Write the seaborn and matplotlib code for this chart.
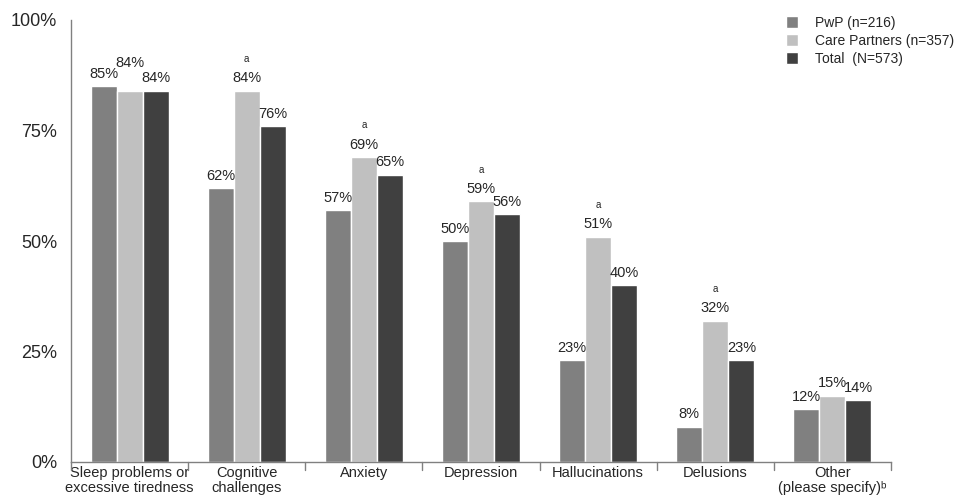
import matplotlib
matplotlib.use("Agg")
import matplotlib.pyplot as plt
import seaborn as sns
import pandas as pd

categories = ["Sleep problems or\nexcessive tiredness", "Cognitive\nchallenges", "Anxiety",
              "Depression", "Hallucinations", "Delusions", "Other\n(please specify)ᵇ"]
series = ["PwP (n=216)", "Care Partners (n=357)", "Total  (N=573)"]
pwp = [85, 62, 57, 50, 23, 8, 12]
care = [84, 84, 69, 59, 51, 32, 15]
total = [84, 76, 65, 56, 40, 23, 14]
sig_a = [False, True, True, True, True, True, False]
yticks = [0, 25, 50, 75, 100]
colors = ["#808080", "#c0c0c0", "#404040"]

sns.set_style("white")
plt.rcParams["font.family"] = ["Liberation Sans", "DejaVu Sans"]

rows = []
for i, c in enumerate(categories):
    for s, vals in zip(series, [pwp, care, total]):
        rows.append({"cat": c, "series": s, "val": vals[i]})
df = pd.DataFrame(rows)

fig = plt.figure(figsize=(9.57, 5.04), dpi=100)
ax = fig.add_axes([71/957, 1 - 462/504, (891-71)/957, (462-20)/504])
sns.barplot(data=df, x="cat", y="val", hue="series", palette=colors, width=0.667,
            ax=ax, saturation=1, dodge=True)
ax.set_xlim(-0.5, len(categories) - 0.5)
ax.set_ylim(0, 100)
ax.set_xlabel("")
ax.set_ylabel("")
ax.set_yticks(yticks)
ax.set_yticklabels([f"{t}%" for t in yticks], fontsize=13)
ax.set_xticks(range(len(categories)))
ax.set_xticklabels(categories, fontsize=10.5, linespacing=1.05)
ax.tick_params(axis="x", length=0, pad=3)
for b in [i - 0.5 for i in range(len(categories) + 1)]:
    ax.plot([b, b], [0, -1.8], color="#808080", lw=1, clip_on=False)
ax.tick_params(axis="y", length=6, color="#808080", width=1, pad=4)
for s in ["top", "right"]:
    ax.spines[s].set_visible(False)
for s in ["left", "bottom"]:
    ax.spines[s].set_color("#808080")
    ax.spines[s].set_linewidth(1)

for j, cont in enumerate(ax.containers):
    for i, p in enumerate(cont.patches):
        x = p.get_x() + p.get_width() / 2
        h = p.get_height()
        off = 1.2
        if i == 0 and j == 1:
            off = 4.7
        ax.text(x, h + off, f"{int(round(h))}%", ha="center", va="bottom", fontsize=10.5)
        if j == 1 and sig_a[i]:
            ax.text(x, h + 6.0, "a", ha="center", va="bottom", fontsize=7)

leg = ax.legend(loc="upper left", frameon=False,
                fontsize=10, handlelength=0.9, handleheight=0.9, handletextpad=1.2,
                labelspacing=0.3, borderaxespad=0)
leg.set_bbox_to_anchor((780/957, 1 - 10/504), transform=fig.transFigure)

fig.savefig("out.png", dpi=100)
